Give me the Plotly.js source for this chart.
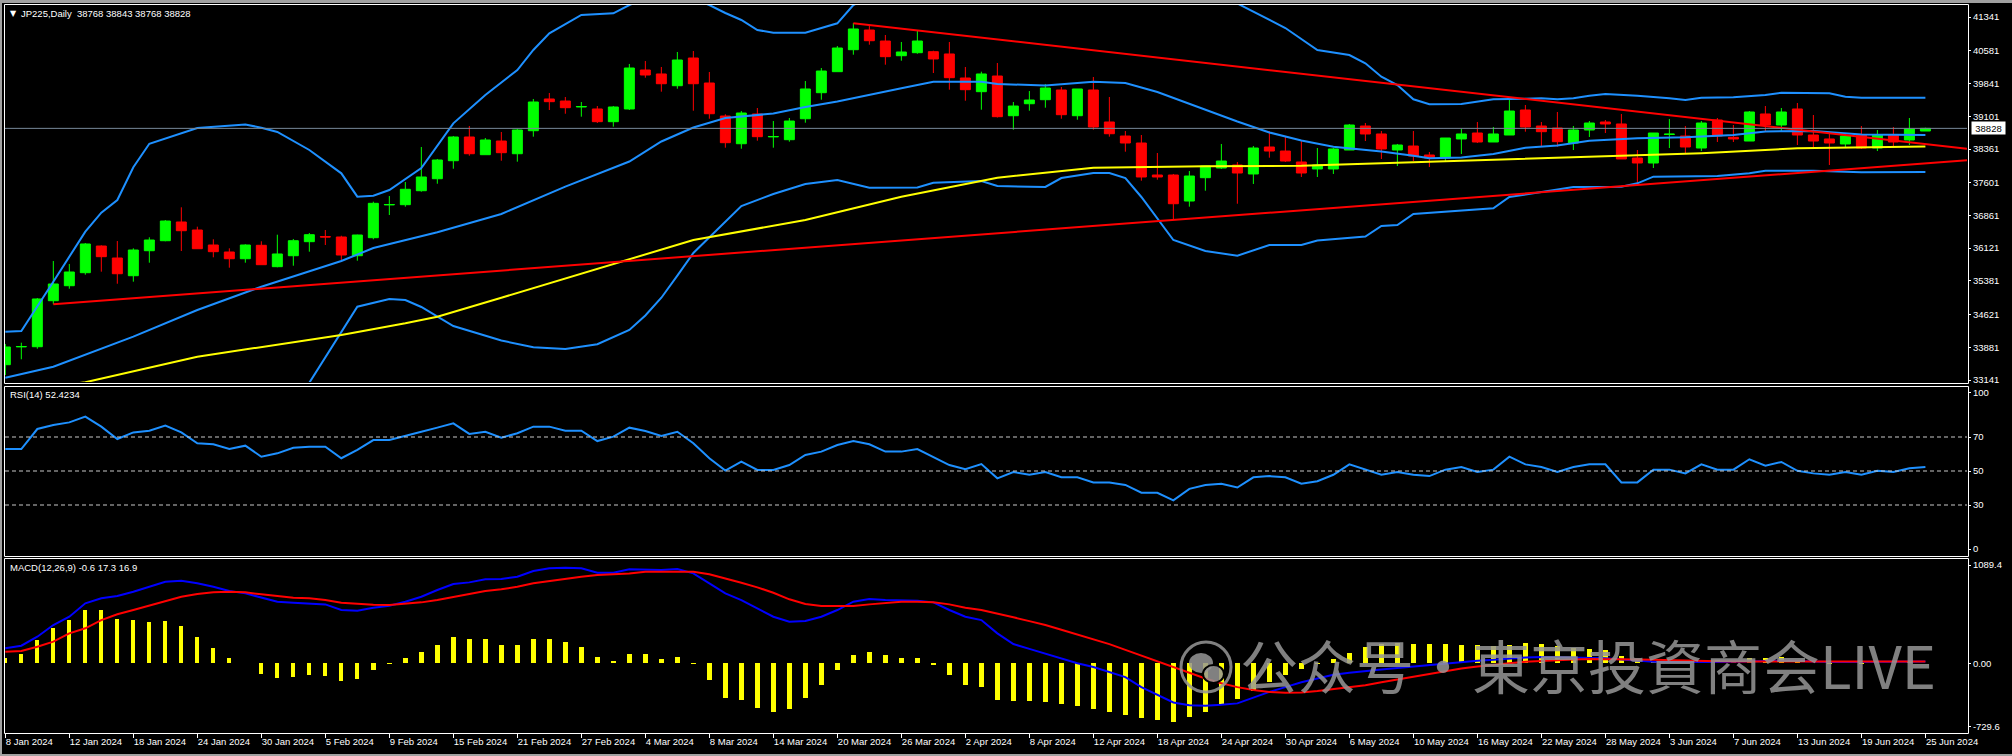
<!DOCTYPE html>
<html><head><meta charset="utf-8">
<script src="https://cdn.plot.ly/plotly-3.0.1.min.js"></script>
<style>html,body{margin:0;padding:0;background:#000;overflow:hidden}#chart{width:2012px;height:756px}</style>
</head><body><div id="chart"></div>
<script>
const dates = [
'2024-01-08','2024-01-09','2024-01-10','2024-01-11','2024-01-12','2024-01-15','2024-01-16','2024-01-17','2024-01-18','2024-01-19',
'2024-01-22','2024-01-23','2024-01-24','2024-01-25','2024-01-26','2024-01-29','2024-01-30','2024-01-31',
'2024-02-01','2024-02-02','2024-02-05','2024-02-06','2024-02-07','2024-02-08','2024-02-09','2024-02-12','2024-02-13','2024-02-14',
'2024-02-15','2024-02-16','2024-02-19','2024-02-20','2024-02-21','2024-02-22','2024-02-23','2024-02-26','2024-02-27','2024-02-28','2024-02-29',
'2024-03-01','2024-03-04','2024-03-05','2024-03-06','2024-03-07','2024-03-08','2024-03-11','2024-03-12','2024-03-13','2024-03-14',
'2024-03-15','2024-03-18','2024-03-19','2024-03-20','2024-03-21','2024-03-22','2024-03-25','2024-03-26','2024-03-27','2024-03-28',
'2024-04-01','2024-04-02','2024-04-03','2024-04-04','2024-04-05','2024-04-08','2024-04-09','2024-04-10','2024-04-11','2024-04-12',
'2024-04-15','2024-04-16','2024-04-17','2024-04-18','2024-04-19','2024-04-22','2024-04-23','2024-04-24','2024-04-25','2024-04-26',
'2024-04-29','2024-04-30',
'2024-05-01','2024-05-02','2024-05-03','2024-05-06','2024-05-07','2024-05-08','2024-05-09','2024-05-10','2024-05-13','2024-05-14',
'2024-05-15','2024-05-16','2024-05-17','2024-05-20','2024-05-21','2024-05-22','2024-05-23','2024-05-24','2024-05-27','2024-05-28',
'2024-05-29','2024-05-30','2024-05-31',
'2024-06-03','2024-06-04','2024-06-05','2024-06-06','2024-06-07','2024-06-10','2024-06-11','2024-06-12','2024-06-13','2024-06-14',
'2024-06-17','2024-06-18','2024-06-19','2024-06-20','2024-06-21','2024-06-24','2024-06-25'];

const open = [33487,33889,33893,34933,35272,35566,36169,35898,35498,36063,36289,36712,36531,36192,36034,35882,36185,35702,35950,36267,
36382,36373,35950,36357,37098,37103,37419,37690,38097,38633,38233,38542,38255,38775,39492,39446,39311,39266,38979,39266,
40147,40057,39792,40418,39853,39107,38481,39153,38635,38572,39046,39634,40109,40606,41051,40802,40470,40538,40561,40509,
39966,39657,40011,39114,39385,39476,39695,39114,39695,38972,38655,38497,37774,37774,37186,37713,37932,38000,37797,38407,
38316,38068,37910,37910,38339,38881,38701,38339,38429,38226,38158,38588,38723,38520,38678,39243,38881,38836,38497,38791,
38972,38927,38158,38045,38689,38655,38384,39017,38626,38542,39153,38904,39266,38678,38588,38475,38678,38384,38678,38565,38768];
const high = [33955,33984,34994,35830,35763,36237,36185,36282,36117,36366,36757,37044,36606,36321,36117,36208,36276,36425,36328,36463,
36531,36402,36425,37171,37299,37616,38407,38136,38655,38881,38610,38746,38814,39492,39627,39537,39424,39333,39333,40283,
40350,40215,40554,40576,40102,39146,39220,39288,38994,39062,39898,40192,40689,41209,41164,40938,40780,41051,40583,40780,
40215,40109,40305,39424,39672,39831,39763,39718,39989,39537,38768,38678,38271,37797,37864,37977,38475,38068,38429,38768,
38633,38542,38384,38384,38927,38949,38768,38475,38768,38294,38610,38820,38972,38859,39469,39356,38972,39198,38881,38994,
39017,39153,38339,38723,39040,38881,38994,39062,38904,39220,39333,39288,39401,39130,38723,38723,38881,38791,38859,39062,38843];
const low = [33254,33609,33848,34852,35204,35521,35589,35317,35363,35792,36276,36056,36108,35914,35679,35792,35747,35688,35724,36041,
36192,35815,35837,36321,36870,37058,37397,37577,37916,38210,38233,38097,38075,38640,39243,39159,39092,38949,38866,39243,
39973,39657,39724,39227,39046,38391,38368,38549,38391,38527,38956,39476,40109,40493,40719,40267,40357,40515,40079,39702,
39453,39250,39073,38798,39227,39295,39046,39024,38798,38640,38301,37645,37668,36757,37058,37419,37910,37125,37571,38165,
38068,37729,37729,37797,38339,38542,38136,37977,38090,37955,38068,38249,38497,38520,38678,38753,38429,38414,38339,38633,
38723,38136,37586,37932,38384,38249,38316,38520,38520,38542,38768,38768,38452,38362,38000,38384,38362,38316,38407,38452,38768];
const close = [33887,33898,34972,35311,35582,36215,35928,35543,36079,36305,36734,36515,36108,36041,35882,36192,35747,35989,36289,36425,
36373,35966,36418,37134,37107,37451,37729,38113,38633,38255,38565,38278,38791,39424,39431,39295,39322,38979,39311,40192,
40034,39837,40373,39837,39159,38504,39175,38640,38644,38994,39718,40124,40644,41074,40809,40448,40554,40802,40396,39973,
39702,40057,39092,39333,39469,39740,39137,39718,38859,38707,38497,37729,37729,37125,37751,37977,38090,37819,38384,38316,
38090,37819,38000,38362,38904,38701,38362,38452,38203,38158,38610,38701,38520,38701,39220,38859,38753,38527,38791,38949,
38927,38136,38045,38723,38698,38407,38949,38655,38588,39198,38904,39198,38678,38542,38497,38655,38384,38678,38520,38814,38828];

// Bollinger bands and moving average, read at sampled bars
const bbUpperBar = [0,1,3,5,6,7,8,9,12,15,16,17,19,21,22,23,24,26,28,30,32,33,34,36,38,39,41,43,44,45,46,47,48,50,52,53,56,60,65,70,74,77,80,82,84,85,86,87,88,89,91,92,93,96,97,98,99,100,102,104,105,106,108,110,111,114,115,116,120];
const bbUpper    = [34233,34249,35363,36493,36922,37209,37950,38480,38836,38915,38843,38746,38339,37812,37284,37306,37435,37932,38942,39582,40147,40599,40976,41390,41428,41616,41900,41750,41616,41435,41277,41051,40990,40990,41202,41616,42100,42400,42500,42350,42000,41650,41096,40599,40486,40298,39996,39808,39485,39372,39379,39431,39485,39507,39485,39507,39566,39605,39566,39507,39469,39521,39530,39582,39634,39620,39544,39521,39521];
const bbMidBar = [0,3,8,12,16,21,23,27,31,35,39,41,43,45,48,50,52,54,56,58,61,62,65,68,70,72,74,76,77,79,81,83,86,88,89,91,93,95,97,99,102,105,108,110,113,116,120];
const bbMid    = [33193,33442,34120,34723,35250,35830,36124,36479,36893,37510,38079,38531,38848,39062,39164,39311,39435,39593,39736,39883,39883,39831,39797,39880,39853,39650,39379,39107,38983,38735,38554,38414,38305,38210,38151,38169,38249,38391,38441,38549,38603,38626,38678,38757,38768,38689,38678];
const bbLowBar = [0,3,6,8,12,16,19,22,24,25,26,28,31,33,35,37,39,40,41,42,43,46,48,50,52,54,57,58,61,62,65,66,68,69,70,71,72,73,75,77,79,81,82,85,86,87,88,91,93,94,97,98,101,102,103,107,109,110,113,116,120];
const bbLow    = [32153,31521,30878,30540,30610,31657,33080,34797,34971,34949,34791,34361,34034,33880,33842,33950,34271,34600,35000,35500,36011,37073,37345,37571,37661,37487,37491,37600,37638,37525,37503,37706,37819,37819,37706,37277,36802,36305,36056,35950,36192,36192,36294,36384,36621,36644,36893,36960,37021,37277,37446,37503,37510,37586,37736,37751,37812,37871,37871,37835,37842];
const maBar = [0,5,12,18,21,25,27,31,41,43,50,56,62,68,75,81,87,93,100,106,112,120];
const ma    = [32850,33090,33668,34006,34158,34422,34572,35001,36079,36305,36757,37284,37713,37939,37971,37984,38052,38124,38203,38264,38377,38418];

// trend lines: two anchors each, extended to the right edge
const trendUpper = {d0:'2024-03-21', p0:41205, d1:'2024-05-20', p1:39532};
const trendLower = {d0:'2024-01-11', p0:34852, d1:'2024-04-19', p1:36757};

const rsi = [62.9,62.9,74.7,77.1,78.6,82.0,76.1,68.8,72.7,73.7,76.7,72.7,66.3,65.7,62.9,64.9,58.4,60.4,63.7,64.3,
64.3,57.5,62.4,68.2,68.2,70.8,73.1,75.5,78.0,71.8,73.1,69.6,72.2,76.1,76.1,73.7,73.7,67.6,70.2,75.5,
73.5,70.6,73.1,66.3,57.5,50.2,55.5,50.6,50.6,53.5,59.4,61.4,65.3,67.6,65.7,61.4,61.4,62.9,58.4,53.5,
51.0,54.1,45.7,49.4,47.8,49.4,46.3,46.3,43.3,43.3,41.8,37.2,37.2,32.7,39.5,41.8,42.5,40.3,46.3,47.0,
46.3,42.5,44.0,47.8,53.9,50.8,47.8,49.4,47.8,47.0,50.8,52.3,49.4,50.8,58.4,53.9,52.3,49.4,52.3,53.9,
53.9,43.3,43.3,50.8,50.8,48.6,53.9,50.8,50.8,56.9,53.1,55.3,50.1,48.6,47.8,49.4,47.8,50.1,49.4,51.6,52.4];

const macd = [156,183,277,399,486,626,678,702,747,799,852,862,835,799,754,730,684,643,632,626,
615,556,549,580,601,643,695,765,828,845,877,880,904,963,992,998,992,946,946,981,
981,974,984,939,835,730,660,574,486,434,441,486,556,643,671,660,660,653,636,556,
486,451,312,200,150,100,50,0,-40,-90,-145,-250,-330,-410,-440,-445,-435,-420,-360,-300,
-250,-200,-160,-120,-100,-80,-65,-50,-35,-20,-5,15,25,35,50,60,65,62,58,55,
52,40,25,15,12,10,12,12,14,20,25,27,22,15,12,12,12,12,13,15,17];
const signal = [120,127,172,225,312,365,451,511,556,601,650,695,723,741,747,741,720,702,684,678,
660,632,619,611,608,619,636,660,689,720,754,772,799,835,859,880,904,922,929,939,
956,956,963,956,929,887,841,793,737,668,619,598,601,598,615,632,643,643,636,615,
580,556,521,480,440,400,350,300,250,200,140,80,20,-40,-100,-160,-210,-250,-280,-300,
-310,-305,-290,-270,-250,-230,-200,-170,-140,-110,-80,-55,-35,-15,0,15,25,35,40,45,
45,45,40,35,30,25,22,20,18,18,18,20,20,20,18,17,17,17,17,17,17];
const hist = [51,96,242,368,451,556,556,462,451,431,441,389,274,159,54,5,-110,-152,-141,-120,
-131,-183,-162,-68,-12,54,117,190,274,253,253,190,190,253,253,222,169,65,23,96,
96,44,65,-8,-176,-360,-381,-465,-507,-476,-360,-225,-68,86,117,86,54,54,-19,-120,
-225,-246,-381,-390,-400,-405,-430,-445,-480,-510,-540,-570,-595,-616,-565,-505,-440,-375,-290,-200,
-120,-60,-10,40,110,170,200,210,205,200,200,195,190,180,195,210,200,175,160,150,
140,80,20,10,15,5,30,30,20,55,55,60,30,5,-10,0,-10,5,5,8,-1];

const tickDates = ['2024-01-08','2024-01-12','2024-01-18','2024-01-24','2024-01-30','2024-02-05','2024-02-09','2024-02-15','2024-02-21','2024-02-27',
'2024-03-04','2024-03-08','2024-03-14','2024-03-20','2024-03-26','2024-04-02','2024-04-08','2024-04-12','2024-04-18','2024-04-24',
'2024-04-30','2024-05-06','2024-05-10','2024-05-16','2024-05-22','2024-05-28','2024-06-03','2024-06-07','2024-06-13','2024-06-19','2024-06-25'];
const tickLabels = ['8 Jan 2024','12 Jan 2024','18 Jan 2024','24 Jan 2024','30 Jan 2024','5 Feb 2024','9 Feb 2024','15 Feb 2024','21 Feb 2024','27 Feb 2024',
'4 Mar 2024','8 Mar 2024','14 Mar 2024','20 Mar 2024','26 Mar 2024','2 Apr 2024','8 Apr 2024','12 Apr 2024','18 Apr 2024','24 Apr 2024',
'30 Apr 2024','6 May 2024','10 May 2024','16 May 2024','22 May 2024','28 May 2024','3 Jun 2024','7 Jun 2024','13 Jun 2024','19 Jun 2024','25 Jun 2024'];
const priceTicks = [41341,40581,39841,39101,38361,37601,36861,36121,35381,34621,33881,33141];
// scale labels: MT4 draws the pane's extreme labels just inside the pane
const rsiTickText = ['100','70','50','30','0'];
const rsiTickPos  = [95.9,70,50,30,4.1];
const rsiLevels = [70,50,30];
const macdTickText = ['1089.4','0.00','-729.6'];
const macdTickPos  = [1026,0,-664];
const header = 'JP225,Daily\u00a0\u00a038768 38843 38768 38828';
const rsiTitle = 'RSI(14) 52.4234';
const macdTitle = 'MACD(12,26,9) -0.6 17.3 16.9';
const lastPrice = 38828;
const watermark = '公众号・東京投資商会LIVE';

const FONT = 'Liberation Sans, DejaVu Sans, Arial, sans-serif';
const W = 2012, H = 756;
const fx = p => p / W, fy = p => 1 - p / H;
const bars = dates.map((d, i) => i);
const XMAX = 122.6;
function trend(a) {
  const i0 = dates.indexOf(a.d0), i1 = dates.indexOf(a.d1);
  const s = (a.p1 - a.p0) / (i1 - i0);
  return {x: [i0, XMAX], y: [a.p0, a.p0 + s * (XMAX - i0)]};
}
const tu = trend(trendUpper), tl = trend(trendLower);
const line = (x, y, color, yaxis, w) => ({type:'scatter', mode:'lines', x, y, xaxis:'x', yaxis, line:{color, width:w||2}, hoverinfo:'skip'});

const traces = [
  line(bbUpperBar, bbUpper, '#1e90ff', 'y'),
  line(bbMidBar, bbMid, '#1e90ff', 'y'),
  line(bbLowBar, bbLow, '#1e90ff', 'y'),
  line(maBar, ma, '#ffff00', 'y'),
  {type:'candlestick', x:bars, open, high, low, close, xaxis:'x', yaxis:'y',
   increasing:{line:{color:'#00ff00', width:1}, fillcolor:'#00ff00'},
   decreasing:{line:{color:'#ff0000', width:1}, fillcolor:'#ff0000'},
   whiskerwidth:0, hoverinfo:'skip'},
  line(tu.x, tu.y, '#ff0000', 'y'),
  line(tl.x, tl.y, '#ff0000', 'y'),
  line(bars, rsi, '#1e90ff', 'y2'),
  {type:'bar', x:bars, y:hist, width:0.27, marker:{color:'#ffff00', line:{width:0}}, xaxis:'x', yaxis:'y3', hoverinfo:'skip'},
  line(bars, macd, '#0000ff', 'y3'),
  line(bars, signal, '#ff0000', 'y3')
];

const tickFont = {family:FONT, size:9.5, color:'#ffffff'};
const yBase = {side:'right', anchor:'x', showgrid:false, zeroline:false, showline:false, ticks:'outside', ticklen:3, tickcolor:'#ffffff', tickfont:tickFont, fixedrange:true};
const rect = (x0, y0, x1, y1, color) => ({type:'rect', xref:'paper', yref:'paper', x0:fx(x0), x1:fx(x1), y0:fy(y0), y1:fy(y1), line:{color, width:1}, fillcolor:'rgba(0,0,0,0)'});
const WM = 'rgba(150,150,150,0.85)';
const shapes = [
  {type:'rect', xref:'paper', yref:'paper', x0:0, x1:1, y0:fy(3), y1:1, line:{width:0}, fillcolor:'#a0a0a0'},
  {type:'rect', xref:'paper', yref:'paper', x0:0, x1:fx(2), y0:0, y1:1, line:{width:0}, fillcolor:'#a0a0a0'},
  {type:'rect', xref:'paper', yref:'paper', x0:0, x1:1, y0:0, y1:fy(754), line:{width:0}, fillcolor:'#a0a0a0'},
  rect(4.5, 4.5, 1968.5, 383.5, '#ffffff'),
  rect(4.5, 386.5, 1968.5, 556.5, '#ffffff'),
  rect(4.5, 558.5, 1968.5, 733.5, '#ffffff'),
  {type:'line', xref:'x domain', yref:'y', x0:0, x1:1, y0:lastPrice, y1:lastPrice, line:{color:'#778899', width:1}},
  // watermark logo (ring with two chat bubbles)
  {type:'circle', xref:'paper', yref:'paper', x0:fx(1181), x1:fx(1231), y0:fy(692), y1:fy(642), line:{color:WM, width:3}, fillcolor:'rgba(0,0,0,0)'},
  {type:'circle', xref:'paper', yref:'paper', x0:fx(1189), x1:fx(1213), y0:fy(673), y1:fy(653), line:{width:0}, fillcolor:WM},
  {type:'circle', xref:'paper', yref:'paper', x0:fx(1203), x1:fx(1224), y0:fy(683), y1:fy(665), line:{color:'#000000', width:2}, fillcolor:WM}
];
rsiLevels.forEach(v => shapes.push({type:'line', xref:'x domain', yref:'y2', x0:0, x1:1, y0:v, y1:v, line:{color:'#c8c8c8', width:1, dash:'4px,3px'}}));

const annotations = [
  {xref:'paper', yref:'paper', x:fx(8), y:fy(13), xanchor:'left', yanchor:'middle', showarrow:false, text:'\u25bc', font:{family:'DejaVu Sans', size:8, color:'#ffffff'}},
  {xref:'paper', yref:'paper', x:fx(19), y:fy(13), xanchor:'left', yanchor:'middle', showarrow:false, text:header, font:{family:FONT, size:9.5, color:'#ffffff'}},
  {xref:'paper', yref:'paper', x:fx(8), y:fy(395), xanchor:'left', yanchor:'middle', showarrow:false, text:rsiTitle, font:{family:FONT, size:9.5, color:'#ffffff'}},
  {xref:'paper', yref:'paper', x:fx(8), y:fy(567), xanchor:'left', yanchor:'middle', showarrow:false, text:macdTitle, font:{family:FONT, size:9.5, color:'#ffffff'}},
  {xref:'paper', yref:'y', x:fx(1971), y:lastPrice, xanchor:'left', yanchor:'middle', showarrow:false, text:String(lastPrice), bgcolor:'#ffffff', width:31, height:10, borderpad:1, font:{family:FONT, size:9.5, color:'#000000'}},
  {xref:'paper', yref:'paper', x:fx(1238), y:fy(664), xanchor:'left', yanchor:'middle', showarrow:false, text:watermark, font:{family:'Noto Sans CJK SC', size:58, color:WM}}
];

const layout = {
  width:W, height:H, margin:{l:0, r:0, t:0, b:0}, paper_bgcolor:'#000000', plot_bgcolor:'#000000',
  showlegend:false, hovermode:false, dragmode:false, boxgap:0.21, boxgroupgap:0.21, bargap:0,
  xaxis:{domain:[fx(5), fx(1967)], range:[-0.02, XMAX], anchor:'y3', showgrid:false, zeroline:false, showline:false,
    ticks:'outside', ticklen:4, tickcolor:'#ffffff', tickvals:tickDates.map(d => dates.indexOf(d)), ticktext:tickLabels,
    tickfont:tickFont, ticklabelposition:'outside right', fixedrange:true, rangeslider:{visible:false}},
  yaxis:Object.assign({}, yBase, {domain:[fy(382), fy(5)], range:[33095.8, 41616], tickvals:priceTicks, ticktext:priceTicks.map(String)}),
  yaxis2:Object.assign({}, yBase, {domain:[fy(556), fy(386)], range:[0, 100], tickvals:rsiTickPos, ticktext:rsiTickText}),
  yaxis3:Object.assign({}, yBase, {domain:[fy(733), fy(559)], range:[-729.6, 1089.4], tickvals:macdTickPos, ticktext:macdTickText}),
  shapes, annotations
};
Plotly.newPlot('chart', traces, layout, {displayModeBar:false, staticPlot:true});
</script></body></html>
